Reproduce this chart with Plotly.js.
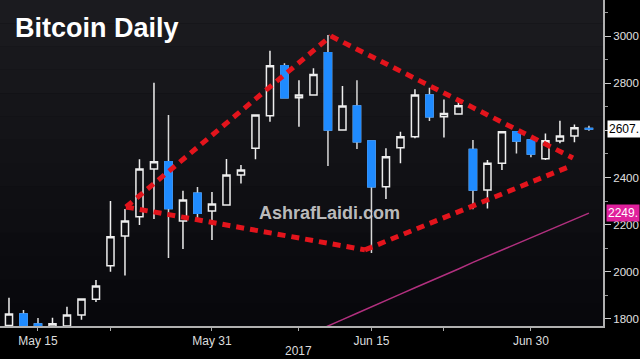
<!DOCTYPE html>
<html>
<head>
<meta charset="utf-8">
<script src="https://cdn.plot.ly/plotly-3.0.1.min.js"></script>
<style>
html,body{margin:0;padding:0;background:#000;}
#chart{width:640px;height:359px;}
</style>
</head>
<body>
<div id="chart"></div>
<script>
// ---- data (weekday sessions) ----
const dates = ['2017-05-11','2017-05-12','2017-05-15','2017-05-16','2017-05-17','2017-05-18','2017-05-19',
  '2017-05-22','2017-05-23','2017-05-24','2017-05-25','2017-05-26','2017-05-29','2017-05-30','2017-05-31',
  '2017-06-01','2017-06-02','2017-06-05','2017-06-06','2017-06-07','2017-06-08','2017-06-09','2017-06-12',
  '2017-06-13','2017-06-14','2017-06-15','2017-06-16','2017-06-19','2017-06-20','2017-06-21','2017-06-22',
  '2017-06-23','2017-06-26','2017-06-27','2017-06-28','2017-06-29','2017-06-30','2017-07-03','2017-07-04',
  '2017-07-05','2017-07-06'];
const openP  = [1772,1821,1778,1768,1770,1817,1883,2026,2152,2234,2436,2467,2215,2333,2258,2283,2411,2524,2662,2874,2738,2750,2929,2601,2703,2555,2361,2526,2573,2750,2658,2669,2519,2347,2460,2594,2559,2480,2555,2576,2608];
const highP  = [1890,1838,1804,1805,1852,1887,1965,2300,2266,2477,2802,2665,2344,2360,2338,2478,2453,2668,2938,2885,2813,2863,3004,2788,2813,2558,2524,2594,2774,2781,2731,2734,2559,2474,2596,2597,2562,2587,2641,2625,2620];
const lowP   = [1760,1755,1745,1750,1760,1796,1872,2000,1984,2199,2224,2059,2097,2211,2135,2280,2375,2477,2637,2736,2615,2748,2449,2599,2521,2080,2309,2460,2567,2640,2570,2667,2265,2269,2432,2502,2486,2474,2545,2549,2598];
const closeP = [1821,1768,1772,1780,1817,1885,1940,2149,2215,2436,2467,2269,2305,2248,2288,2411,2432,2665,2874,2738,2750,2837,2601,2703,2552,2361,2488,2573,2750,2658,2672,2704,2347,2460,2594,2555,2500,2556,2576,2611,2606];
const movingAvg = [null,null,null,null,null,null,null,null,null,null,null,null,null,null,null,null,null,null,null,null,1716,1742,1770,1797,1824,1850,1878,1905,1932,1958,1985,2012,2040,2066,2093,2120,2146,2172,2198,2224,2249];

// tick labels
const tickDates  = ['2017-05-15','2017-05-22','2017-05-31','2017-06-08','2017-06-15','2017-06-22','2017-06-30'];
const tickLabels = ['May 15','','May 31','','Jun 15','','Jun 30'];
const priceTicks = [1800,2000,2200,2400,2600,2800,3000];
const priceLabels = ['1800','2000','2200','2400','','2800','3000'];

// hand-drawn diamond (x in session index units, y in price)
const upperX = [8.07, 22.2, 38.9];
const upperY = [2275, 3000, 2483];
const lowerX = [8.07, 24.55, 38.55];
const lowerY = [2275, 2093, 2444];

const lastPrice = 2607;
const maLast = 2249;

// ---- traces ----
const FONT = 'Liberation Sans, Arial, sans-serif';
const WHITE = '#eeeeee', BLUE = '#1f8bff';

// full candles: white wicks everywhere, hollow up bodies, blue down bodies
const candles = {
  type:'candlestick', x:dates, open:openP, high:highP, low:lowP, close:closeP,
  increasing:{line:{color:WHITE, width:1.5}, fillcolor:'rgba(0,0,0,0)'},
  decreasing:{line:{color:'#d8d8d8', width:1.5}, fillcolor:BLUE},
  whiskerwidth:0, showlegend:false, hoverinfo:'none'
};
// overlay: down-day bodies only, to paint the body edge blue
const downIdx = dates.map((d, i) => i).filter(i => closeP[i] < openP[i]);
const downBodies = {
  type:'candlestick',
  x: downIdx.map(i => dates[i]),
  open: downIdx.map(i => openP[i]),
  close: downIdx.map(i => closeP[i]),
  high: downIdx.map(i => openP[i]),
  low: downIdx.map(i => closeP[i]),
  increasing:{line:{color:BLUE, width:1.5}, fillcolor:BLUE},
  decreasing:{line:{color:BLUE, width:1.5}, fillcolor:BLUE},
  whiskerwidth:0, showlegend:false, hoverinfo:'none'
};
const ma = {
  type:'scatter', mode:'lines', x:dates, y:movingAvg,
  line:{color:'#b2307f', width:1.5}, showlegend:false, hoverinfo:'none', connectgaps:false
};

// ---- decorations ----
const shapes = [];
const bands = 14;
for (let k = 0; k < bands; k++) {
  const t = k / (bands - 1);
  const c = Math.round(8 + (27 - 8) * t);
  shapes.push({type:'rect', xref:'paper', yref:'paper', x0:0, x1:1, y0:k/bands, y1:(k+1)/bands,
    fillcolor:`rgb(${c},${c},${c+4})`, line:{width:0}, layer:'below'});
}
function addPolyline(xs, ys) {
  for (let k = 0; k < xs.length - 1; k++) {
    shapes.push({type:'line', xref:'x', yref:'y', x0:xs[k], y0:ys[k], x1:xs[k+1], y1:ys[k+1],
      line:{color:'#e3141c', width:5, dash:'8px,6px'}, layer:'above'});
  }
}
addPolyline(upperX, upperY);
addPolyline(lowerX, lowerY);

const annotations = [
  {xref:'paper', yref:'paper', x:0.022, y:0.915, xanchor:'left', yanchor:'middle', showarrow:false,
   text:'<b>Bitcoin Daily</b>', font:{family:FONT, size:27, color:'#ffffff'}},
  {xref:'paper', yref:'paper', x:329.5/603, y:(326-213)/326, xanchor:'center', yanchor:'middle', showarrow:false,
   text:'<b>AshrafLaidi.com</b>', font:{family:FONT, size:18, color:'rgba(210,210,210,0.9)'}},
  {xref:'x', yref:'paper', x:'2017-06-08', y:-(351-326)/326, xanchor:'center', yanchor:'middle', showarrow:false,
   text:'2017', font:{family:FONT, size:12, color:'#dddddd'}},
  {xref:'paper', yref:'y', x:1, y:lastPrice, xanchor:'left', yanchor:'middle', xshift:4, showarrow:false,
   text:lastPrice + '.', bgcolor:'#ffffff', borderpad:1,
   font:{family:FONT, size:12, color:'#000000'}},
  {xref:'paper', yref:'y', x:1, y:maLast, xanchor:'left', yanchor:'middle', xshift:3, showarrow:false,
   text:maLast + '.', bgcolor:'#e0209c', borderpad:1,
   font:{family:FONT, size:12, color:'#ffffff'}}
];

const layout = {
  width:640, height:359,
  margin:{l:0, r:37, t:0, b:33},
  paper_bgcolor:'#000000', plot_bgcolor:'#0e0e12',
  showlegend:false,
  font:{family:FONT, color:'#dddddd', size:12},
  xaxis:{type:'category', range:[-0.62, 40.97], rangeslider:{visible:false},
    tickmode:'array', tickvals:tickDates, ticktext:tickLabels,
    ticks:'outside', ticklen:3, tickcolor:'#aaaaaa', tickwidth:1,
    showgrid:false, zeroline:false, showline:true, linecolor:'#b0b0b0', linewidth:2,
    tickfont:{size:12, color:'#dddddd'}, fixedrange:true},
  yaxis:{side:'right', range:[1770, 3153], tickmode:'array', tickvals:priceTicks, ticktext:priceLabels,
    ticks:'outside', ticklen:6, tickcolor:'#cccccc', tickwidth:1,
    minor:{dtick:100, tick0:1700, ticks:'outside', ticklen:3, tickcolor:'#999999'},
    showgrid:false, zeroline:false, showline:true, linecolor:'#b0b0b0', linewidth:2,
    tickfont:{size:11.5, color:'#e0e0e0'}, fixedrange:true},
  shapes:shapes,
  annotations:annotations
};

Plotly.newPlot('chart', [ma, candles, downBodies], layout, {staticPlot:true, displayModeBar:false});
</script>
</body>
</html>
